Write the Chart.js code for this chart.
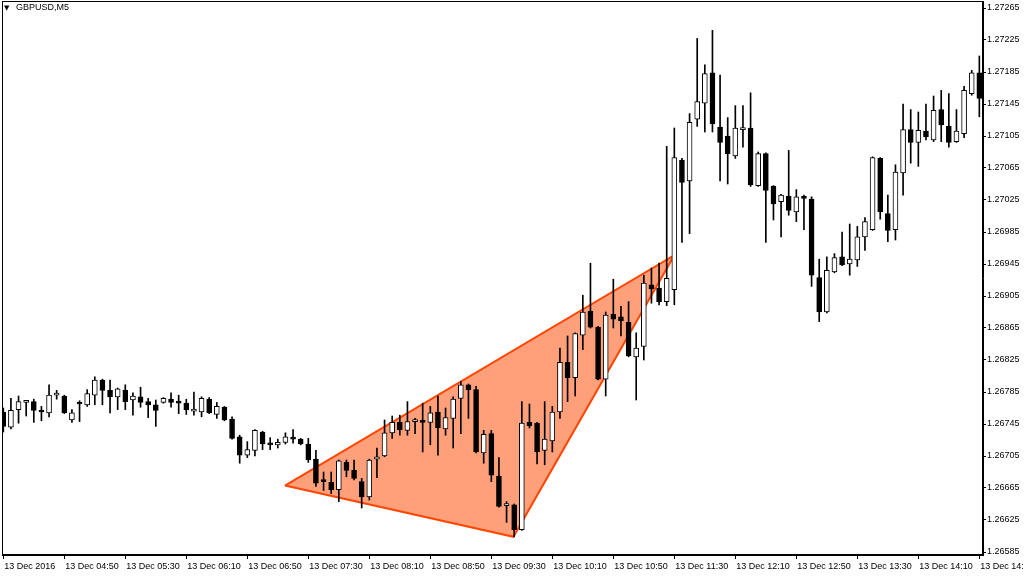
<!DOCTYPE html>
<html><head><meta charset="utf-8">
<script src="https://cdn.jsdelivr.net/npm/chart.js@4"></script>
<style>html,body{margin:0;padding:0;background:#fff;overflow:hidden}</style>
</head><body>
<canvas id="c" width="1024" height="576"></canvas>
<script>
const symbolTitle = 'GBPUSD,M5';
const timeLabels = ['13 Dec 2016','13 Dec 04:50','13 Dec 05:30','13 Dec 06:10','13 Dec 06:50','13 Dec 07:30','13 Dec 08:10','13 Dec 08:50','13 Dec 09:30','13 Dec 10:10','13 Dec 10:50','13 Dec 11:30','13 Dec 12:10','13 Dec 12:50','13 Dec 13:30','13 Dec 14:10','13 Dec 14:50'];
const timeTickIndex = [0,8,16,24,32,40,48,56,64,72,80,88,96,104,112,120,128];
const priceTicks = [1.27265,1.27225,1.27185,1.27145,1.27105,1.27065,1.27025,1.26985,1.26945,1.26905,1.26865,1.26825,1.26785,1.26745,1.26705,1.26665,1.26625,1.26585];

const open = [1.26760,1.26741,1.26763,1.26772,1.26773,1.26762,1.26759,1.26781,1.26780,1.26750,
1.26772,1.26769,1.26781,1.26800,1.26787,1.26779,1.26787,1.26775,1.26779,1.26773,
1.26769,1.26772,1.26776,1.26772,1.26771,1.26761,1.26760,1.26776,1.26757,1.26766,
1.26751,1.26729,1.26706,1.26712,1.26735,1.26721,1.26719,1.26722,1.26728,1.26726,
1.26720,1.26701,1.26674,1.26672,1.26663,1.26697,1.26687,1.26673,1.26654,1.26701,
1.26705,1.26734,1.26747,1.26737,1.26748,1.26748,1.26747,1.26760,1.26739,1.26752,
1.26777,1.26794,1.26788,1.26709,1.26733,1.26680,1.26643,1.26644,1.26613,1.26747,
1.26746,1.26712,1.26724,1.26760,1.26822,1.26803,1.26856,1.26886,1.26866,1.26801,
1.26882,1.26879,1.26872,1.26829,1.26842,1.26919,1.26915,1.26898,1.26913,1.27075,
1.27049,1.27126,1.27146,1.27184,1.27116,1.27105,1.27080,1.27113,1.27115,1.27043,
1.27083,1.27042,1.27023,1.27030,1.27010,1.27028,1.27026,1.26928,1.26885,1.26935,
1.26954,1.26945,1.26950,1.26979,1.26988,1.27077,1.27008,1.26988,1.27059,1.27113,
1.27097,1.27111,1.27100,1.27138,1.27117,1.27098,1.27108,1.27158,1.27184];

const high = [1.26765,1.26777,1.26780,1.26774,1.26776,1.26767,1.26794,1.26787,1.26781,1.26763,
1.26774,1.26788,1.26804,1.26801,1.26800,1.26790,1.26794,1.26784,1.26791,1.26777,
1.26775,1.26778,1.26784,1.26781,1.26776,1.26785,1.26779,1.26778,1.26772,1.26767,
1.26754,1.26731,1.26723,1.26738,1.26736,1.26728,1.26726,1.26734,1.26738,1.26727,
1.26727,1.26712,1.26685,1.26685,1.26700,1.26700,1.26700,1.26677,1.26701,1.26715,
1.26750,1.26755,1.26756,1.26773,1.26752,1.26771,1.26767,1.26780,1.26765,1.26779,
1.26798,1.26795,1.26792,1.26737,1.26737,1.26703,1.26648,1.26645,1.26773,1.26770,
1.26747,1.26773,1.26767,1.26840,1.26855,1.26859,1.26906,1.26946,1.26867,1.26885,
1.26926,1.26892,1.26898,1.26859,1.26931,1.26940,1.26946,1.27092,1.27115,1.27077,
1.27133,1.27227,1.27194,1.27237,1.27181,1.27128,1.27143,1.27143,1.27159,1.27085,
1.27084,1.27043,1.27032,1.27087,1.27038,1.27031,1.27029,1.26951,1.26954,1.26958,
1.26985,1.26995,1.26992,1.27003,1.27079,1.27078,1.27031,1.27069,1.27145,1.27138,
1.27135,1.27145,1.27155,1.27162,1.27158,1.27138,1.27167,1.27187,1.27205];

const low = [1.26735,1.26739,1.26746,1.26755,1.26747,1.26749,1.26754,1.26776,1.26758,1.26747,
1.26748,1.26767,1.26769,1.26769,1.26759,1.26763,1.26763,1.26756,1.26766,1.26753,
1.26742,1.26771,1.26766,1.26758,1.26757,1.26756,1.26754,1.26758,1.26752,1.26749,
1.26726,1.26696,1.26703,1.26705,1.26713,1.26713,1.26715,1.26720,1.26721,1.26719,
1.26697,1.26667,1.26662,1.26658,1.26648,1.26679,1.26675,1.26640,1.26650,1.26678,
1.26704,1.26727,1.26731,1.26731,1.26733,1.26710,1.26719,1.26706,1.26731,1.26715,
1.26733,1.26752,1.26709,1.26696,1.26673,1.26641,1.26622,1.26604,1.26612,1.26740,
1.26695,1.26694,1.26710,1.26752,1.26773,1.26780,1.26838,1.26865,1.26800,1.26780,
1.26865,1.26855,1.26829,1.26775,1.26825,1.26896,1.26894,1.26893,1.26894,1.26972,
1.26983,1.27117,1.27110,1.27110,1.27049,1.27045,1.27077,1.27091,1.27042,1.27042,
1.26972,1.27000,1.26979,1.27006,1.26998,1.26988,1.26917,1.26873,1.26884,1.26934,
1.26943,1.26931,1.26942,1.26962,1.26987,1.27001,1.26973,1.26975,1.27031,1.27071,
1.27067,1.27100,1.27098,1.27098,1.27091,1.27097,1.27103,1.27156,1.27129];

const close = [1.26742,1.26762,1.26773,1.26773,1.26762,1.26760,1.26781,1.26782,1.26759,1.26759,
1.26770,1.26783,1.26800,1.26787,1.26779,1.26789,1.26773,1.26780,1.26772,1.26769,
1.26762,1.26777,1.26772,1.26771,1.26763,1.26762,1.26777,1.26759,1.26767,1.26750,
1.26727,1.26706,1.26713,1.26737,1.26720,1.26719,1.26722,1.26729,1.26726,1.26720,
1.26700,1.26671,1.26673,1.26663,1.26699,1.26687,1.26677,1.26654,1.26700,1.26704,
1.26734,1.26747,1.26738,1.26748,1.26749,1.26747,1.26759,1.26740,1.26753,1.26776,
1.26794,1.26788,1.26710,1.26732,1.26681,1.26642,1.26645,1.26613,1.26746,1.26743,
1.26710,1.26726,1.26760,1.26822,1.26803,1.26858,1.26885,1.26866,1.26801,1.26881,
1.26876,1.26874,1.26830,1.26840,1.26921,1.26914,1.26898,1.26927,1.27078,1.27047,
1.27122,1.27148,1.27183,1.27120,1.27097,1.27083,1.27115,1.27115,1.27044,1.27083,
1.27037,1.27020,1.27031,1.27012,1.27029,1.27027,1.26931,1.26885,1.26937,1.26953,
1.26944,1.26951,1.26979,1.26998,1.27078,1.27010,1.26987,1.27060,1.27113,1.27097,
1.27112,1.27104,1.27137,1.27119,1.27097,1.27111,1.27162,1.27184,1.27152];

// triangle pattern vertices (candle index, price)
const patternIndex = [36.94, 88.0, 66.9, 36.94];
const patternPrice = [1.26668, 1.26956, 1.26604, 1.26668];

const FONT = {family:'Liberation Sans, Arial, sans-serif', size:9};

const framePlugin = {
  id:'frame',
  afterDraw(chart){
    const {ctx, chartArea:a} = chart;
    ctx.save();
    ctx.strokeStyle = '#000'; ctx.lineWidth = 1;
    ctx.strokeRect(a.left+0.5, a.top+0.5, a.right-a.left-1, a.bottom-a.top-1);
    ctx.fillStyle = '#000';
    ctx.textBaseline = 'middle';
    ctx.font = '7px "DejaVu Sans"';
    ctx.fillText('\u25BC', 4, 8);
    ctx.font = '9px "Liberation Sans"';
    ctx.fillText(symbolTitle, 16, 8);
    ctx.restore();
  }
};

new Chart(document.getElementById('c'), {
  type:'bar',
  data:{
    datasets:[
      {type:'line', label:'pattern', order:3,
       data: patternIndex.map((x,i)=>({x, y:patternPrice[i]})),
       borderColor:'#FF4500', borderWidth:2, backgroundColor:'#FFA07A',
       fill:'shape', pointRadius:0, tension:0},
      {type:'bar', label:'wick', order:2, grouped:false,
       data: open.map((_,i)=>({x:i, y:[low[i], high[i]]})),
       backgroundColor:'#000', barThickness:1, borderWidth:0},
      {type:'bar', label:'body', order:1, grouped:false,
       data: open.map((o,i)=>({x:i, y:[o, close[i]]})),
       backgroundColor: open.map((o,i)=> close[i] >= o ? '#fff' : '#000'),
       borderColor:'#000', borderWidth:1, borderSkipped:false, barThickness:5, minBarLength:2}
    ]
  },
  options:{
    responsive:false, animation:false, devicePixelRatio:1,
    layout:{padding:{left:2, top:1, right:0, bottom:0}},
    plugins:{legend:{display:false}, tooltip:{enabled:false}},
    scales:{
      x:{type:'linear', min:-0.17, max:128.48, offset:false,
        afterBuildTicks:s=>{ s.ticks = timeTickIndex.map(v=>({value:v})); },
        ticks:{autoSkip:false, maxRotation:0, minRotation:0, align:'start', labelOffset:1, padding:2, color:'#000', font:FONT,
          callback:(v,i)=> timeLabels[i]},
        grid:{offset:false, drawOnChartArea:false, drawTicks:true, tickLength:4, color:'#000'},
        border:{display:true, color:'#000'},
        afterFit:s=>{ s.height = 21; s.paddingLeft = 0; s.paddingRight = 0; }
      },
      y:{type:'linear', position:'right', min:1.2658125, max:1.2727375,
        afterBuildTicks:s=>{ s.ticks = priceTicks.map(v=>({value:v})); },
        ticks:{autoSkip:false, padding:1, color:'#000', font:FONT, callback:v=>Number(v).toFixed(5)},
        grid:{drawOnChartArea:false, drawTicks:true, tickLength:3, color:'#000'},
        border:{display:true, color:'#000'},
        afterFit:s=>{ s.width = 41; s.paddingTop = 0; s.paddingBottom = 0; }
      }
    }
  },
  plugins:[framePlugin]
});
</script>
</body></html>
